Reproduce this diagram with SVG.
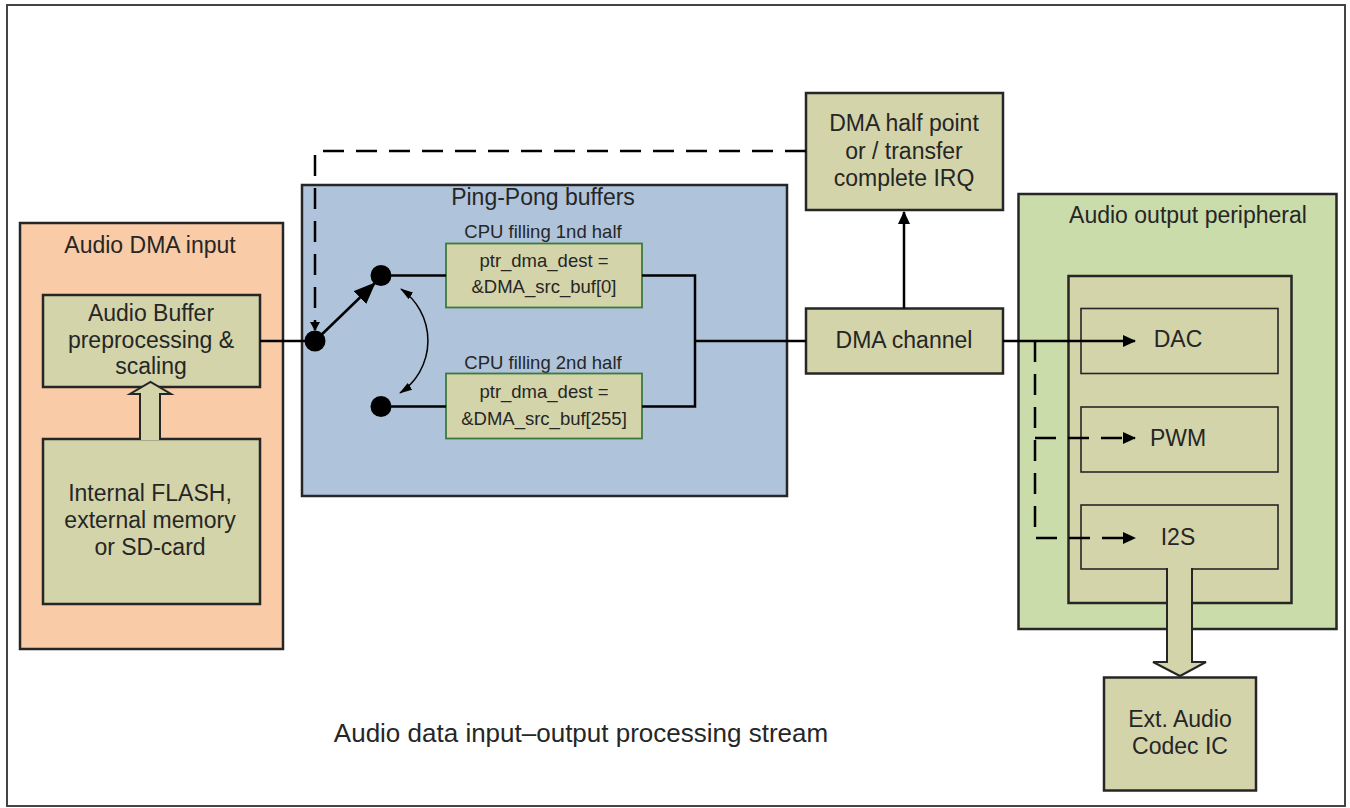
<svg xmlns="http://www.w3.org/2000/svg" width="1350" height="808" viewBox="0 0 1350 808">
<style>
text{font-family:"Liberation Sans",Arial,sans-serif;fill:#262626;text-anchor:middle}
.t{font-size:23px}
.s{font-size:18.5px}
.cap{font-size:26px}
.box{fill:#D3D4AA;stroke:#262626;stroke-width:2.5}
.sub{fill:#D3D4AA;stroke:#262626;stroke-width:1.6}
.buf{fill:#D3D4AA;stroke:#3C7A3C;stroke-width:1.8}
.ln{fill:none;stroke:#000;stroke-width:2.5}
.dash{fill:none;stroke:#000;stroke-width:2.5;stroke-dasharray:21 12}
.dot{fill:#000}
</style>
<defs>
<marker id="aBig" markerUnits="userSpaceOnUse" markerWidth="22" markerHeight="18" viewBox="0 0 22 18" refX="21" refY="9" orient="auto"><path d="M0,0 L22,9 L0,18 z" fill="#000"/></marker>
<marker id="aMed" markerUnits="userSpaceOnUse" markerWidth="13" markerHeight="12" viewBox="0 0 13 12" refX="12" refY="6" orient="auto"><path d="M0,0 L13,6 L0,12 z" fill="#000"/></marker>
<marker id="aSm" markerUnits="userSpaceOnUse" markerWidth="13" markerHeight="8" viewBox="0 0 13 8" refX="12" refY="4" orient="auto-start-reverse"><path d="M0,0 L13,4 L0,8 z" fill="#000"/></marker>
<marker id="aTiny" markerUnits="userSpaceOnUse" markerWidth="9" markerHeight="10" viewBox="0 0 9 10" refX="8" refY="5" orient="auto"><path d="M0,0 L9,5 L0,10 z" fill="#000"/></marker>
</defs>
<rect x="0" y="0" width="1350" height="808" fill="#fff"/>
<rect x="7" y="5" width="1338" height="801" fill="#fff" stroke="#444" stroke-width="2"/>

<g id="audio-dma-input">
<rect x="20" y="223" width="263" height="426" fill="#F9CBA6" stroke="#262626" stroke-width="2.5"/>
<text class="t" x="150" y="253">Audio DMA input</text>
</g>
<g id="audio-buffer">
<rect class="box" x="43" y="295" width="217" height="92"/>
<text class="t" x="151" y="321">Audio Buffer</text>
<text class="t" x="151" y="347.5">preprocessing &amp;</text>
<text class="t" x="151" y="374">scaling</text>
</g>
<g id="internal-flash">
<rect class="box" x="43" y="439" width="217" height="165"/>
<text class="t" x="150" y="501">Internal FLASH,</text>
<text class="t" x="150" y="528">external memory</text>
<text class="t" x="150" y="555">or SD-card</text>
</g>

<g id="ping-pong">
<rect x="302" y="185" width="485" height="311" fill="#AFC3DB" stroke="#262626" stroke-width="2.5"/>
<text class="t" x="543" y="205">Ping-Pong buffers</text>
<text class="s" x="543" y="238">CPU filling 1nd half</text>
<text class="s" x="543" y="369">CPU filling 2nd half</text>
</g>
<g id="buffer-1">
<rect class="buf" x="446" y="243.5" width="196" height="64"/>
<text class="s" x="544" y="267">ptr_dma_dest =</text>
<text class="s" x="544" y="293">&amp;DMA_src_buf[0]</text>
</g>
<g id="buffer-2">
<rect class="buf" x="446" y="373.5" width="196" height="65"/>
<text class="s" x="544" y="398">ptr_dma_dest =</text>
<text class="s" x="544" y="425">&amp;DMA_src_buf[255]</text>
</g>
<g id="switch">
<circle class="dot" cx="315" cy="341" r="10.5"/>
<circle class="dot" cx="381" cy="275.5" r="10.5"/>
<circle class="dot" cx="381" cy="406.5" r="10.5"/>
</g>

<g id="dma-irq">
<rect class="box" x="806" y="93" width="197" height="117"/>
<text class="t" x="904" y="130.5">DMA half point</text>
<text class="t" x="904" y="158.5">or / transfer</text>
<text class="t" x="904" y="186">complete IRQ</text>
</g>
<g id="dma-channel">
<rect class="box" x="806" y="308.5" width="197" height="65"/>
<text class="t" x="904" y="348">DMA channel</text>
</g>

<g id="audio-output">
<rect x="1018.5" y="194" width="318" height="435" fill="#CADCAA" stroke="#262626" stroke-width="2.5"/>
<text class="t" x="1188" y="223">Audio output peripheral</text>
<rect class="box" x="1068.5" y="276" width="223" height="327"/>
</g>
<g id="dac">
<rect class="sub" x="1081" y="308.5" width="197" height="65"/>
<text class="t" x="1178" y="347">DAC</text>
</g>
<g id="pwm">
<rect class="sub" x="1081" y="407" width="197" height="65"/>
<text class="t" x="1178" y="446">PWM</text>
</g>
<g id="i2s">
<rect class="sub" x="1081" y="505" width="197" height="64"/>
<text class="t" x="1178" y="544.5">I2S</text>
</g>
<g id="codec">
<rect class="box" x="1104" y="677.5" width="152" height="113"/>
<text class="t" x="1180" y="727">Ext. Audio</text>
<text class="t" x="1180" y="754">Codec IC</text>
</g>

<g id="connectors">
<path d="M140,440 V394 H130 L150.5,382 L171,394 H160 V440" fill="#D3D4AA" stroke="#262626" stroke-width="2"/>
<path d="M1167,568 V662 H1153 L1180,676 L1206,662 H1192 V568" fill="#D3D4AA" stroke="#262626" stroke-width="2"/>
<path class="ln" d="M260,341 H315"/>
<path class="ln" d="M315,341 L375,283" stroke-width="2.2" marker-end="url(#aBig)"/>
<path d="M401,289 A63,63 0 0,1 400,393" fill="none" stroke="#000" stroke-width="1.5" marker-start="url(#aSm)" marker-end="url(#aSm)"/>
<path class="ln" d="M381,275.5 H446"/>
<path class="ln" d="M381,406.5 H446"/>
<path class="ln" d="M642,275.5 H695 V406.5 H642"/>
<path class="ln" d="M695,341 H806"/>
<path class="ln" d="M904,308.5 V212" marker-end="url(#aMed)"/>
<path class="dash" d="M806,151 H315 V330" marker-end="url(#aTiny)"/>
<path class="ln" d="M1003,341 H1135" marker-end="url(#aMed)"/>
<path class="dash" d="M1035,341 V538 H1135" marker-end="url(#aMed)"/>
<path class="dash" d="M1035,438 H1135" marker-end="url(#aMed)"/>
</g>

<text class="cap" x="581" y="741.5">Audio data input–output processing stream</text>
</svg>
